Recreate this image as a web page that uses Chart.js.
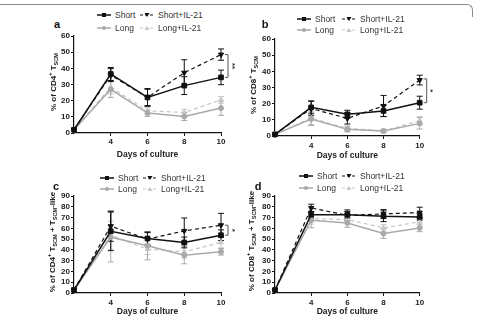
<!DOCTYPE html>
<html>
<head>
<meta charset="utf-8">
<script src="https://cdn.jsdelivr.net/npm/chart.js@4.4.0/dist/chart.umd.min.js"></script>
<style>
    body { margin: 0; background: #fff; font-family: "Liberation Sans", Arial, sans-serif; }
    #wrap { position: relative; width: 477px; height: 317px; overflow: hidden; }
    canvas { position: absolute; }
    .frame { position: absolute; left: -6px; top: 4px; width: 478px; height: 12px;
             border-top: 1px solid #8c8c8c; border-right: 1px solid #8c8c8c; border-top-right-radius: 6px; }
    .letter { position: absolute; font-weight: bold; font-size: 11px; color: #111; transform: translate(-50%, -50%); }
    .ytitle { position: absolute; font-weight: bold; font-size: 8px; color: #222; white-space: nowrap;
              transform: translate(-50%, -50%) rotate(-90deg); }
    .ytitle sub, .ytitle sup { font-size: 70%; line-height: 0; }
    .legend { position: absolute; font-size: 8.5px; color: #333; z-index: 2; }
    .legend .it { position: absolute; white-space: nowrap; transform: translateY(-50%); display: flex; align-items: center; }
    .legend svg { margin-right: 4px; }
</style>
</head>
<body>
<div id="wrap">
    <div class="frame"></div>
    <canvas id="chartA" width="240" height="130" style="left:0;top:30px"></canvas>
    <canvas id="chartB" width="240" height="131" style="left:237px;top:30px"></canvas>
    <canvas id="chartC" width="240" height="147" style="left:0;top:170px"></canvas>
    <canvas id="chartD" width="240" height="147" style="left:237px;top:170px"></canvas>

    <div class="letter" style="left:57px;top:24px">a</div>
    <div class="letter" style="left:265px;top:24px">b</div>
    <div class="letter" style="left:56px;top:186px">c</div>
    <div class="letter" style="left:258px;top:186px">d</div>

    <div class="ytitle" style="left:53px;top:82px">% of CD4<sup>+</sup> T<sub>SCM</sub></div>
    <div class="ytitle" style="left:253px;top:85px">% of CD8<sup>+</sup> T<sub>SCM</sub></div>
    <div class="ytitle" style="left:52px;top:242px">% of CD4<sup>+</sup> T<sub>SCM</sub> + T<sub>SCM</sub>-like</div>
    <div class="ytitle" style="left:251px;top:241px">% of CD8<sup>+</sup> T<sub>SCM</sub> + T<sub>SCM</sub>-like</div>

    <div id="legA" class="legend"></div>
    <div id="legB" class="legend"></div>
    <div id="legC" class="legend"></div>
    <div id="legD" class="legend"></div>
</div>
<script>
// ---- data ----
const days = [2, 4, 6, 8, 10];
const xTicks = [4, 6, 8, 10];
const seriesNames = ['Short', 'Short+IL-21', 'Long', 'Long+IL-21'];

// a: % of CD4+ TSCM
const aShort = [2, 36.5, 22, 29.3, 34.4];
const aShortIL21 = [2, 35.8, 22, 37.3, 48.5];
const aLong = [2, 27, 12.3, 10.2, 15.4];
const aLongIL21 = [2, 28.3, 13.7, 12.7, 20.5];
const aShortErr = [0, 4, 5.5, 5.5, 4.5];
const aShortIL21Err = [0, 4, 5, 8, 3.5];
const aLongErr = [0, 5, 2, 2.5, 4.5];
const aLongIL21Err = [0, 4, 2, 2, 2];

// b: % of CD8+ TSCM
const bShort = [1, 17.7, 13.4, 15.5, 20.6];
const bShortIL21 = [1, 17, 10.9, 18.6, 34.6];
const bLong = [1, 10.5, 4.1, 3.1, 7.8];
const bLongIL21 = [1, 11.1, 4.7, 3.1, 9.5];
const bShortErr = [0, 4, 2.5, 3.5, 4];
const bShortIL21Err = [0, 4.5, 3.5, 6.5, 3];
const bLongErr = [0, 4, 1.5, 1, 3.5];
const bLongIL21Err = [0, 4, 1.5, 1, 2.5];

// c: % of CD4+ TSCM + TSCM-like
const cShort = [2.8, 57.3, 50.6, 46.9, 53.6];
const cShortIL21 = [2.8, 62, 50, 57.6, 62.9];
const cLong = [2.8, 51.8, 43.8, 35.1, 38.2];
const cLongIL21 = [2.8, 53.6, 40.7, 38.2, 46.9];
const cShortErr = [0, 18, 6, 5, 5];
const cShortIL21Err = [0, 14, 6, 12, 11];
const cLongErr = [0, 23, 13, 8, 3];
const cLongIL21Err = [0, 13, 5, 6, 5];

// d: % of CD8+ TSCM + TSCM-like
const dShort = [2.8, 72.7, 72.7, 71.2, 70.6];
const dShortIL21 = [2.8, 78.9, 72.1, 73.4, 74.6];
const dLong = [2.8, 67.5, 65, 55.2, 60.4];
const dLongIL21 = [2.8, 69, 68.1, 60.4, 66];
const dShortErr = [0, 3, 3, 5, 3];
const dShortIL21Err = [0, 3.5, 5, 4, 5];
const dLongErr = [0, 7, 4, 4.5, 3.5];
const dLongIL21Err = [0, 5, 3, 3, 4];

const FONT = '"Liberation Sans", Arial, sans-serif';
const styles = [
    { color: '#111111', dash: [], width: 1.5, point: 'rect', radius: 3.3, rot: 0 },
    { color: '#111111', dash: [4, 3], width: 1.2, point: 'triangle', radius: 3, rot: 180 },
    { color: '#a9a9a9', dash: [], width: 1.5, point: 'circle', radius: 2.5, rot: 0 },
    { color: '#c6c6c6', dash: [4, 3], width: 1.2, point: 'triangle', radius: 2.7, rot: 0 }
];

// error bars under the lines
const errorBars = {
    id: 'errorBars',
    beforeDatasetsDraw(chart) {
        const { ctx, scales: { x, y } } = chart;
        const dsList = chart.data.datasets;
        for (let i = dsList.length - 1; i >= 0; i--) {
            const ds = dsList[i];
            ctx.save();
            ctx.strokeStyle = ds.borderColor;
            ctx.lineWidth = 1;
            ds.data.forEach((p, j) => {
                const e = ds.err[j];
                if (!e) return;
                const px = x.getPixelForValue(p.x);
                const t = y.getPixelForValue(p.y + e);
                const b = y.getPixelForValue(p.y - e);
                ctx.beginPath();
                ctx.moveTo(px, t); ctx.lineTo(px, b);
                ctx.moveTo(px - 3, t); ctx.lineTo(px + 3, t);
                ctx.moveTo(px - 3, b); ctx.lineTo(px + 3, b);
                ctx.stroke();
            });
            ctx.restore();
        }
    }
};

// significance bracket next to day 10
const sigBar = {
    id: 'sigBar',
    afterDatasetsDraw(chart, args, opts) {
        if (!opts || !opts.text) return;
        const { ctx, scales: { x, y } } = chart;
        const px = x.getPixelForValue(10) + 7;
        const t = y.getPixelForValue(opts.from);
        const b = y.getPixelForValue(opts.to);
        ctx.save();
        ctx.strokeStyle = '#555';
        ctx.lineWidth = 1;
        ctx.beginPath();
        ctx.moveTo(px - 3, t); ctx.lineTo(px, t); ctx.lineTo(px, b); ctx.lineTo(px - 3, b);
        ctx.stroke();
        ctx.translate(px + 4, (t + b) / 2);
        ctx.rotate(Math.PI / 2);
        ctx.fillStyle = '#333';
        ctx.font = 'bold 8px ' + FONT;
        ctx.textAlign = 'center';
        ctx.textBaseline = 'middle';
        ctx.fillText(opts.text, 0, 0);
        ctx.restore();
    }
};

function makePanel(id, series, errs, yMax, pad, xHeight, tickPad, sig) {
    const datasets = series.map((vals, i) => ({
        label: seriesNames[i],
        data: days.map((d, j) => ({ x: d, y: vals[j] })),
        err: errs[i],
        borderColor: styles[i].color,
        backgroundColor: styles[i].color,
        borderWidth: styles[i].width,
        borderDash: styles[i].dash,
        pointStyle: styles[i].point,
        pointRadius: styles[i].radius,
        pointRotation: styles[i].rot,
        pointBorderWidth: 1,
        tension: 0,
        clip: false
    }));
    const tickFont = { family: FONT, size: 8, weight: 'bold' };
    new Chart(document.getElementById(id), {
        type: 'line',
        data: { datasets },
        options: {
            responsive: false,
            animation: false,
            layout: { autoPadding: false, padding: pad },
            plugins: { legend: { display: false }, tooltip: { enabled: false }, sigBar: sig },
            scales: {
                x: {
                    type: 'linear', min: 2, max: 10,
                    afterBuildTicks: s => { s.ticks = xTicks.map(v => ({ value: v })); },
                    afterFit: s => { s.height = xHeight; },
                    grid: { drawOnChartArea: false, drawTicks: true, tickLength: 3, color: '#111' },
                    border: { color: '#111', width: 1.2 },
                    ticks: { font: tickFont, color: '#222', padding: tickPad, maxRotation: 0, autoSkip: false },
                    title: { display: true, text: 'Days of culture', color: '#222', padding: 0,
                             font: { family: FONT, size: 8.5, weight: 'bold' } }
                },
                y: {
                    min: 0, max: yMax,
                    afterFit: s => { s.width = 20; },
                    grid: { drawOnChartArea: false, drawTicks: true, tickLength: 3, color: '#111' },
                    border: { color: '#111', width: 1.2 },
                    ticks: { stepSize: 10, autoSkip: false, font: tickFont, color: '#222', padding: 1 }
                }
            }
        },
        plugins: [errorBars, sigBar]
    });
}

function symbol(i) {
    const s = styles[i];
    const dash = s.dash.length ? ' stroke-dasharray="3,2"' : '';
    let mark;
    if (s.point === 'rect') mark = '<rect x="5" y="2" width="4" height="4" fill="' + s.color + '"/>';
    else if (s.point === 'circle') mark = '<circle cx="7" cy="4" r="2" fill="' + s.color + '"/>';
    else if (s.rot === 180) mark = '<polygon points="4.5,2 9.5,2 7,6" fill="' + s.color + '"/>';
    else mark = '<polygon points="4.5,6 9.5,6 7,2" fill="' + s.color + '"/>';
    return '<svg width="14" height="8"><line x1="0" y1="4" x2="14" y2="4" stroke="' + s.color +
        '" stroke-width="' + s.width + '"' + dash + '/>' + mark + '</svg>';
}

function makeLegend(id, col1, col2, row1, row2) {
    const pos = [[col1, row1], [col2, row1], [col1, row2], [col2, row2]];
    document.getElementById(id).innerHTML = seriesNames.map((n, i) =>
        '<div class="it" style="left:' + pos[i][0] + 'px;top:' + pos[i][1] + 'px">' + symbol(i) + n + '</div>'
    ).join('');
}

makePanel('chartA', [aShort, aShortIL21, aLong, aLongIL21],
    [aShortErr, aShortIL21Err, aLongErr, aLongIL21Err], 60,
    { left: 54, right: 19, top: 6, bottom: 0 }, 27, 1, { from: 48.5, to: 34.4, text: '**' });
makePanel('chartB', [bShort, bShortIL21, bLong, bLongIL21],
    [bShortErr, bShortIL21Err, bLongErr, bLongIL21Err], 60,
    { left: 18, right: 57.3, top: 9, bottom: 0 }, 25, 2, { from: 35.3, to: 20.6, text: '*' });
makePanel('chartC', [cShort, cShortIL21, cLong, cLongIL21],
    [cShortErr, cShortIL21Err, cLongErr, cLongIL21Err], 90,
    { left: 54, right: 19, top: 26, bottom: 0 }, 24, 2, { from: 62.9, to: 53.6, text: '*' });
makePanel('chartD', [dShort, dShortIL21, dLong, dLongIL21],
    [dShortErr, dShortIL21Err, dLongErr, dLongIL21Err], 90,
    { left: 18, right: 57.3, top: 26, bottom: 0 }, 24, 2, null);

makeLegend('legA', 97, 140, 14.5, 28);
makeLegend('legB', 297, 342, 19, 30);
makeLegend('legC', 100, 143, 178, 189);
makeLegend('legD', 299, 342, 176, 188);
</script>
</body>
</html>
